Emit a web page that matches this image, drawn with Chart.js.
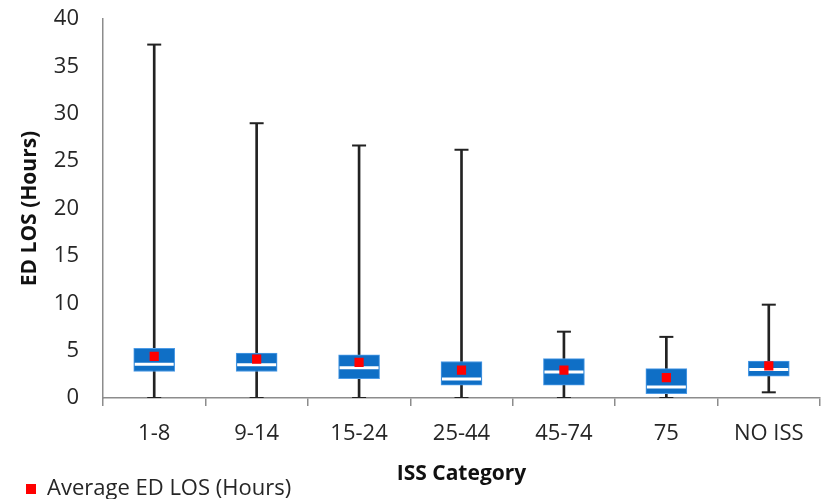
<!DOCTYPE html>
<html>
<head>
<meta charset="utf-8">
<script src="https://cdn.jsdelivr.net/npm/chart.js@4.4.1/dist/chart.umd.min.js"></script>
<style>
  html, body { margin: 0; padding: 0; background: #fff; }
  #wrap { width: 825px; height: 499px; }
</style>
</head>
<body>
<div id="wrap"><canvas id="myChart"></canvas></div>
<script>
// ISS kategorileri ve kutu grafiği değerleri (saat)
const categories = ['1-8', '9-14', '15-24', '25-44', '45-74', '75', 'NO ISS'];
const minVals    = [0, 0, 0, 0, 0, 0, 0.6];
const q1Vals     = [2.8, 2.8, 2.05, 1.35, 1.35, 0.45, 2.3];
const medianVals = [3.55, 3.5, 3.2, 2.0, 2.75, 1.15, 3.0];
const q3Vals     = [5.25, 4.75, 4.55, 3.85, 4.15, 3.1, 3.9];
const maxVals    = [37.3, 29.0, 26.65, 26.2, 7.0, 6.45, 9.85];
const avgVals    = [4.4, 4.1, 3.75, 2.95, 2.95, 2.15, 3.4];
const yTicks     = [0, 5, 10, 15, 20, 25, 30, 35, 40];

const textColor = '#262626';
const axisColor = '#8c8c8c';
const boxBlue = '#0f6fc6';

const ctx = document.getElementById('myChart').getContext('2d');

let myChart = new Chart(ctx, {
    type: 'bar',
    data: {
        labels: categories,
        datasets: [
            {
                // ortalama (kırmızı kare)
                type: 'line',
                label: 'Average ED LOS (Hours)',
                data: avgVals,
                showLine: false,
                pointStyle: 'rect',
                pointRadius: 6.5,
                backgroundColor: '#ff0000',
                borderColor: '#ff0000',
                borderWidth: 0,
                order: 0
            },
            {
                // medyan çizgisi
                type: 'line',
                label: 'median',
                data: medianVals,
                showLine: false,
                pointStyle: 'line',
                pointRadius: 19.5,
                borderColor: '#ffffff',
                borderWidth: 3,
                order: 1
            },
            {
                // kutu (Q1 - Q3)
                label: 'box',
                data: q1Vals.map((v, i) => [v, q3Vals[i]]),
                backgroundColor: boxBlue,
                borderColor: '#4d9be6',
                borderWidth: 1,
                borderSkipped: false,
                barThickness: 41,
                grouped: false,
                order: 2
            },
            {
                // üst bıyık ucu
                type: 'line',
                label: 'capMax',
                data: maxVals,
                showLine: false,
                pointStyle: 'line',
                pointRadius: 7,
                borderColor: '#222222',
                borderWidth: 2,
                order: 3
            },
            {
                // alt bıyık ucu
                type: 'line',
                label: 'capMin',
                data: minVals,
                showLine: false,
                pointStyle: 'line',
                pointRadius: 7,
                borderColor: '#222222',
                borderWidth: 2,
                order: 3
            },
            {
                // bıyık (min - max)
                label: 'whisker',
                data: minVals.map((v, i) => [v, maxVals[i]]),
                backgroundColor: '#222222',
                borderWidth: 0,
                barThickness: 2,
                grouped: false,
                order: 4
            }
        ]
    },
    options: {
        responsive: true,
        maintainAspectRatio: false,
        animation: false,
        layout: {
            autoPadding: false,
            padding: { top: 19, right: 5, left: 23, bottom: -11 }
        },
        plugins: {
            tooltip: { enabled: false },
            legend: {
                display: true,
                position: 'bottom',
                align: 'start',
                labels: {
                    filter: (item) => item.datasetIndex === 0,
                    usePointStyle: true,
                    pointStyle: 'rect',
                    boxWidth: 10,
                    boxHeight: 10,
                    padding: 3,
                    color: textColor,
                    font: { family: 'Open Sans', size: 22 }
                }
            }
        },
        scales: {
            x: {
                offset: true,
                afterFit: (scale) => {
                    scale.height = 77;
                    scale.paddingLeft = 0;
                    scale.paddingRight = 0;
                },
                grid: {
                    display: true,
                    offset: true,
                    drawOnChartArea: false,
                    tickLength: 8,
                    color: axisColor,
                    lineWidth: 1.5
                },
                border: { display: true, color: axisColor, width: 1.5 },
                ticks: {
                    color: textColor,
                    padding: 15,
                    font: { family: 'Open Sans', size: 22 }
                },
                title: {
                    display: true,
                    text: 'ISS Category',
                    color: '#111',
                    padding: { top: 0, bottom: -12 },
                    font: { family: 'Open Sans', size: 21, weight: 'bold' }
                }
            },
            y: {
                min: 0,
                max: 40,
                afterBuildTicks: (scale) => {
                    scale.ticks = yTicks.map(v => ({ value: v }));
                },
                afterFit: (scale) => {
                    scale.width = 80;
                    scale.paddingTop = 0;
                    scale.paddingBottom = 0;
                },
                grid: { display: false },
                border: { display: true, color: axisColor, width: 1.5 },
                ticks: {
                    color: textColor,
                    padding: 16,
                    font: { family: 'Open Sans', size: 22 }
                },
                title: {
                    display: true,
                    text: 'ED LOS (Hours)',
                    color: '#111',
                    padding: { top: -6, bottom: 0 },
                    font: { family: 'Open Sans', size: 21, weight: 'bold' }
                }
            }
        }
    }
});
</script>
</body>
</html>
